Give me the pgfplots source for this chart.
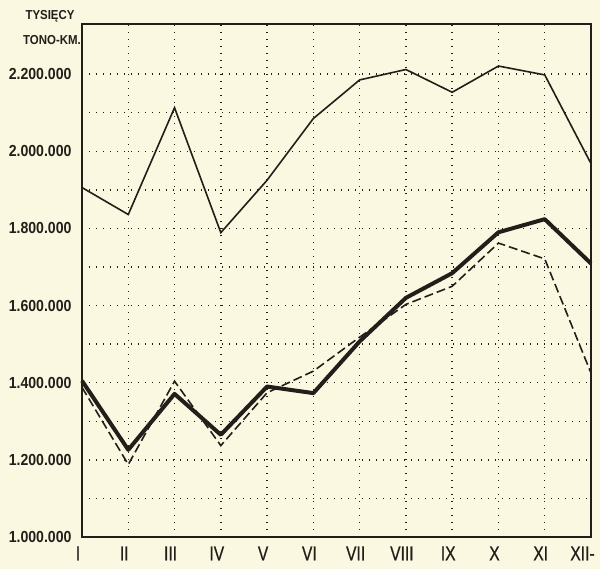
\documentclass[border=0pt]{standalone}
\usepackage{pgfplots}
\pgfplotsset{compat=1.18}
\usepackage{fontspec}
\setmainfont{Liberation Sans}
\newfontfamily\labfont[FakeStretch=0.78,FakeBold=0.6]{Liberation Sans}
\newfontfamily\numfont[FakeStretch=0.88]{Liberation Sans}
\definecolor{paper}{RGB}{251,248,226}
\definecolor{ink}{RGB}{35,30,25}
\begin{document}
\begin{tikzpicture}
\fill[paper] (-82bp,-32bp) rectangle (518bp,537bp);
\begin{axis}[
  at={(0,0)}, anchor=south west,
  scale only axis, width=509bp, height=513bp,
  xmin=1, xmax=12, ymin=1000000, ymax=2330000,
  xtick={1,...,12},
  xticklabels={I,II,III,IV,V,VI,VII,VIII,IX,X,XI,{\makebox[0pt]{\kern-9bp XII-}}},
  ytick={1000000,1200000,1400000,1600000,1800000,2000000,2200000},
  yticklabels={1.000.000,1.200.000,1.400.000,1.600.000,1.800.000,2.000.000,2.200.000},
  minor ytick={1100000,1300000,1500000,1700000,1900000,2100000},
  scaled y ticks=false,
  major tick length=0pt, minor tick length=0pt,
  xmajorgrids, ymajorgrids, yminorgrids,
  major grid style={ink, line width=1.4bp, dash pattern=on 1.4bp off 5.6bp},
  minor grid style={ink, line width=1.4bp, dash pattern=on 1.4bp off 5.6bp},
  axis line style={ink, line width=1.8bp},
  x tick label style={font=\labfont\fontsize{20bp}{22bp}\selectfont, text=ink, yshift=-6bp, xshift=-4bp},
  y tick label style={font=\numfont\bfseries\fontsize{16bp}{18bp}\selectfont, text=ink, xshift=-7bp},
  /pgf/number format/assume math mode=true,
  clip=false,
]
\addplot[ink, line width=1.6bp] coordinates {
(1,1906000) (2,1836000) (3,2113000) (4,1789000) (5,1925000) (6,2085000)
(7,2185000) (8,2212000) (9,2153000) (10,2221000) (11,2198000) (12,1968000)};
\addplot[ink, line width=4bp, line join=round] coordinates {
(1,1405000) (2,1226000) (3,1371000) (4,1265000) (5,1390000) (6,1373000)
(7,1507000) (8,1620000) (9,1684000) (10,1790000) (11,1824000) (12,1709000)};
\addplot[ink, line width=1.6bp, dash pattern=on 9bp off 4bp] coordinates {
(1,1388000) (2,1188000) (3,1404000) (4,1237000) (5,1374000) (6,1430000)
(7,1518000) (8,1603000) (9,1650000) (10,1762000) (11,1721000) (12,1425000)};
\end{axis}
\node[font=\numfont\bfseries\fontsize{13bp}{15bp}\selectfont, text=ink] at (-32bp,521bp) {TYSIĘCY};
\node[font=\numfont\bfseries\fontsize{13bp}{15bp}\selectfont, text=ink] at (-30bp,497bp) {TONO-KM.};
\pgfresetboundingbox
\path (-82bp,-32bp) rectangle (518bp,537bp);
\end{tikzpicture}
\end{document}
